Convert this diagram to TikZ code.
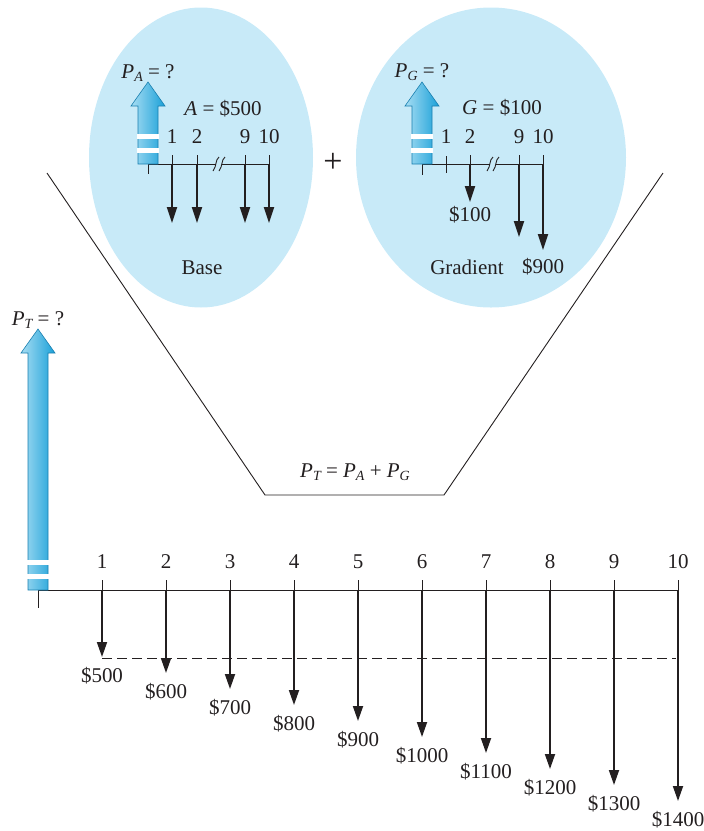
\documentclass[tikz,border=0pt]{standalone}
\usepackage{fontspec}
\setmainfont{Liberation Serif}
\usetikzlibrary{arrows.meta}
\definecolor{bubble}{HTML}{C8EAF8}
\definecolor{arrowlight}{HTML}{A6DDF3}
\definecolor{arrowdark}{HTML}{1AA0D8}
\definecolor{arrowedge}{HTML}{1A80B0}
\definecolor{ink}{HTML}{231F20}
\newcommand{\sbs}[1]{\raisebox{-0.35ex}{\fontsize{14}{14}\selectfont\itshape #1}}
\newcommand{\vit}[1]{\textit{#1}}
\newcommand{\BlueArrow}[3]{%
  \shade[left color=arrowlight,right color=arrowdark,draw=arrowedge,line width=0.6pt]
    ({#1-10},#3) -- ({#1-10},{#2+24}) -- ({#1-17},{#2+24}) -- (#1,#2) --
    ({#1+17},{#2+24}) -- ({#1+10},{#2+24}) -- ({#1+10},#3) -- cycle;
  \fill[white] ({#1-11},{#3-30}) rectangle ({#1+11},{#3-25.5});
  \fill[white] ({#1-11},{#3-16}) rectangle ({#1+11},{#3-11.5});
}
\tikzset{
  txt/.style={inner sep=0pt, text=ink},
  axisline/.style={draw=ink, line width=0.9pt},
  cash/.style={draw=ink, line width=1.8pt, -{Triangle[length=15pt,width=10pt]}},
  minicash/.style={draw=ink, line width=1.8pt, -{Triangle[length=16pt,width=10pt]}},
  guide/.style={draw=ink, line width=0.9pt},
  bubblefill/.style={fill=bubble, draw=none},
}
\begin{document}
\begin{tikzpicture}[x=1pt,y=-1pt,font=\fontsize{21}{25}\selectfont]
\useasboundingbox (0,0) rectangle (704,831);

% trapezoid guide lines
\coordinate (g1) at (47,173);
\coordinate (g2) at (265,495);
\coordinate (g3) at (444,495);
\coordinate (g4) at (663,173);
\draw[guide] (g1) -- (g2) -- (g3) -- (g4);
\node[txt] (eq) at (355,472) {\vit{P}\sbs{T} = \vit{P}\sbs{A} + \vit{P}\sbs{G}};

% bubbles
\fill[bubblefill] (201,157.5) ellipse [x radius=112, y radius=150];
\fill[bubblefill] (491,157.5) ellipse [x radius=135, y radius=150];
\node[txt,font=\fontsize{34}{34}\selectfont] (plus) at (333,163) {+};

% ---------- Base bubble ----------
\coordinate (a0) at (148,164);
\coordinate (a0b) at (148,174);
\coordinate (ab1) at (216,164);
\coordinate (ab2) at (222,164);
\coordinate (a10) at (269,164);
\draw[axisline] (a0) -- (ab1);
\draw[axisline] (ab2) -- (a10);
\draw[axisline] (a0) -- (a0b);
\draw[axisline] (213,171) .. controls (217,166) and (215,160) .. (219,157);
\draw[axisline] (219,171) .. controls (223,166) and (221,160) .. (225,157);
\foreach \x/\l [count=\k] in {172/1,197/2,245/9,269/10}{
  \coordinate (at\k) at (\x,164);
  \coordinate (ad\k) at (\x,223);
  \draw[axisline] (\x,155) -- (at\k);
  \draw[minicash] (at\k) -- (ad\k);
  \node[txt] (al\k) at (\x,137) {\l};
}
\BlueArrow{148}{82}{164}
\node[txt] (pa) at (148,73) {\vit{P}\sbs{A} = ?};
\node[txt] (aval) at (223,109) {\vit{A} = \$500};
\node[txt] (base) at (202,268) {Base};

% ---------- Gradient bubble ----------
\coordinate (b0) at (422,164);
\coordinate (b0b) at (422,175);
\coordinate (bb1) at (490,164);
\coordinate (bb2) at (496,164);
\coordinate (b10) at (543,164);
\draw[axisline] (b0) -- (bb1);
\draw[axisline] (bb2) -- (b10);
\draw[axisline] (b0) -- (b0b);
\draw[axisline] (487,171) .. controls (491,166) and (489,160) .. (493,157);
\draw[axisline] (493,171) .. controls (497,166) and (495,160) .. (499,157);
\coordinate (bt1) at (446,164);
\draw[axisline] (446,156) -- (446,173);
\node[txt] (bl1) at (446,137) {1};
\foreach \x/\l/\tip [count=\k from 2] in {470/2/202,519/9/237,543/10/250}{
  \coordinate (bt\k) at (\x,164);
  \coordinate (bd\k) at (\x,\tip);
  \draw[axisline] (\x,155) -- (bt\k);
  \draw[minicash] (bt\k) -- (bd\k);
  \node[txt] (bl\k) at (\x,137) {\l};
}
\BlueArrow{422}{82}{164}
\node[txt] (pg) at (422,72) {\vit{P}\sbs{G} = ?};
\node[txt] (gval) at (502,108) {\vit{G} = \$100};
\node[txt] (g100) at (470,215) {\$100};
\node[txt] (g900) at (543,267) {\$900};
\node[txt] (grad) at (467,267) {Gradient};

% ---------- main cash flow diagram ----------
\coordinate (o) at (38,590);
\coordinate (ob) at (38,608);
\coordinate (dash1) at (102,658);
\coordinate (dash2) at (676,658);
\draw[axisline] (o) -- (678,590);
\draw[axisline] (o) -- (ob);
\draw[draw=ink, line width=0.9pt, dash pattern=on 10pt off 5pt] (dash1) -- (dash2);
\foreach \i in {1,...,10}{
  \pgfmathsetmacro\xx{38+64*\i}
  \pgfmathsetmacro\tip{657+16*(\i-1)}
  \pgfmathtruncatemacro\amt{400+100*\i}
  \coordinate (t\i) at (\xx,590);
  \coordinate (d\i) at (\xx,\tip);
  \draw[axisline] (\xx,580) -- (t\i);
  \draw[cash] (t\i) -- (d\i);
  \node[txt] (n\i) at (\xx,562) {\i};
  \node[txt] (v\i) at (\xx,{\tip+19}) {\$\amt};
}
\BlueArrow{38}{329}{590}
\node[txt] (pt) at (38,320) {\vit{P}\sbs{T} = ?};
\end{tikzpicture}
\end{document}
